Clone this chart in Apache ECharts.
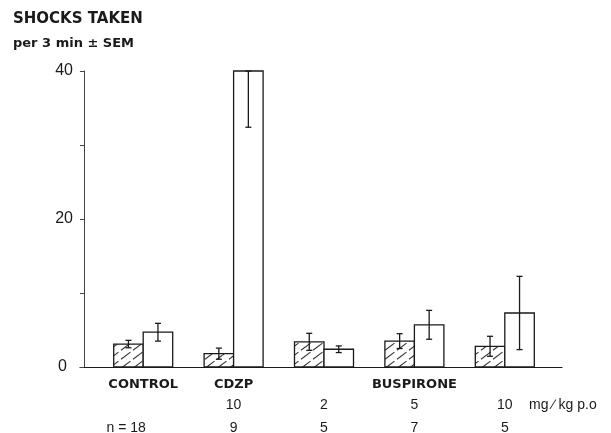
<!DOCTYPE html>
<html>
<head>
<meta charset="utf-8">
<script src="https://cdn.jsdelivr.net/npm/echarts@6/dist/echarts.min.js"></script>
<style>html,body{margin:0;padding:0;background:#fff;}#c{width:611px;height:433px;}</style>
</head>
<body>
<div id="c"></div>
<script>
// ---- data ----
const categories = ['CONTROL', 'CDZP 10', 'BUSPIRONE 2', 'BUSPIRONE 5', 'BUSPIRONE 10'];
const groupLabels = ['CONTROL', 'CDZP', ' ', 'BUSPIRONE', ' '];
const doseLabels = [' ', '10', '2', '5', '10'];
const nLabels = ['n = 18', '9', '5', '7', '5'];
const hatchedMean = [3.1, 1.8, 3.4, 3.5, 2.8];
const hatchedSem = [0.5, 0.75, 1.15, 1.0, 1.35];
const openMean = [4.7, 40, 2.4, 5.7, 7.3];
const openSem = [1.2, 7.6, 0.45, 1.95, 4.95];
const yTickLabels = {0: '0', 20: '20', 40: '40'};
const Y_MAX = 40;

// ---- styles ----
const INK = '#1a1a1a';
const FONT = '"Liberation Sans", Arial, sans-serif';
const BFONT = '"DejaVu Sans", "Liberation Sans", sans-serif';
const BAR_W = 29.5;

const tile = document.createElement('canvas');
tile.width = 12; tile.height = 9;
const tctx = tile.getContext('2d');
tctx.fillStyle = '#fff'; tctx.fillRect(0, 0, 12, 9);
tctx.strokeStyle = '#333'; tctx.lineWidth = 1.1;
tctx.beginPath();
tctx.moveTo(1, 8.2); tctx.lineTo(10.5, 1.1);
tctx.stroke();

function makeRender(side, fill) {
  return function (params, api) {
    const idx = api.value(0), mean = api.value(1), sem = api.value(2);
    const base = api.coord([idx, 0]);
    const topP = api.coord([idx, mean]);
    const x0 = side < 0 ? base[0] - BAR_W : base[0];
    const cx = x0 + BAR_W / 2;
    const yLo = api.coord([idx, Math.max(0, mean - sem)])[1];
    const yHi = api.coord([idx, Math.min(Y_MAX, mean + sem)])[1];
    const ls = {stroke: INK, lineWidth: 1.3};
    return {
      type: 'group',
      children: [
        {type: 'rect', shape: {x: x0, y: topP[1], width: BAR_W, height: base[1] - topP[1]},
         style: {fill: fill, stroke: INK, lineWidth: 1.3}},
        {type: 'line', shape: {x1: cx, y1: yLo, x2: cx, y2: yHi}, style: ls},
        {type: 'line', shape: {x1: cx - 3, y1: yLo, x2: cx + 3, y2: yLo}, style: ls},
        {type: 'line', shape: {x1: cx - 3, y1: yHi, x2: cx + 3, y2: yHi}, style: ls}
      ]
    };
  };
}

const chart = echarts.init(document.getElementById('c'), null, {renderer: 'canvas'});
chart.setOption({
  backgroundColor: '#fff',
  animation: false,
  grid: [
    {left: 98, width: 452, top: 71, height: 296, containLabel: false, outerBoundsMode: 'none'},
    {left: 80, width: 482, top: 71, height: 296, containLabel: false, outerBoundsMode: 'none'}
  ],
  xAxis: [
    {type: 'category', gridIndex: 0, data: categories,
     axisLine: {show: false}, axisTick: {show: false},
     axisLabel: {
       margin: 8, interval: 0,
       formatter: function (v, i) {
         return '{g|' + groupLabels[i] + '}\n{d|' + doseLabels[i] + '}\n' +
           (i === 0 ? '{n0|' + nLabels[i] + '}' : '{n|' + nLabels[i] + '}');
       },
       rich: {
         g: {fontFamily: BFONT, fontSize: 13, color: INK, lineHeight: 20, fontWeight: 'bold'},
         d: {fontFamily: FONT, fontSize: 14, color: INK, lineHeight: 20},
         n: {fontFamily: FONT, fontSize: 14, color: INK, lineHeight: 26},
         n0: {fontFamily: FONT, fontSize: 14, color: INK, lineHeight: 26, padding: [0, 34, 0, 0]}
       }
     }},
    {type: 'value', gridIndex: 1, min: 0, max: 1,
     axisLine: {show: true, lineStyle: {color: INK, width: 1.2}},
     axisTick: {show: false}, axisLabel: {show: false}, splitLine: {show: false}}
  ],
  yAxis: [
    {type: 'value', gridIndex: 0, min: 0, max: Y_MAX, interval: 10, offset: 14,
     axisLine: {show: true, lineStyle: {color: '#444', width: 1}},
     axisTick: {show: true, length: 4, lineStyle: {color: '#444'}},
     splitLine: {show: false},
     axisLabel: {
       margin: 11,
       formatter: function (v) {
         if (v === 0) return '{z|0}';
         return yTickLabels[v] !== undefined ? yTickLabels[v] : '';
       },
       fontFamily: FONT, fontSize: 16, color: INK,
       rich: {z: {fontFamily: FONT, fontSize: 16, color: INK, padding: [0, 6, 0, 0]}}
     }},
    {type: 'value', gridIndex: 1, min: 0, max: Y_MAX, show: false}
  ],
  series: [
    {type: 'custom', xAxisIndex: 0, yAxisIndex: 0, clip: false,
     renderItem: makeRender(-1, {image: tile, repeat: 'repeat'}),
     data: hatchedMean.map((m, i) => [i, m, hatchedSem[i]])},
    {type: 'custom', xAxisIndex: 0, yAxisIndex: 0, clip: false,
     renderItem: makeRender(1, '#fff'),
     data: openMean.map((m, i) => [i, m, openSem[i]])}
  ],
  graphic: [
    {type: 'text', x: 13, y: 19, style: {text: 'SHOCKS TAKEN', font: 'bold 15px ' + BFONT, fill: INK, verticalAlign: 'middle'}},
    {type: 'text', x: 13, y: 44, style: {text: 'per 3 min \u00B1 SEM', font: 'bold 13px ' + BFONT, fill: INK, verticalAlign: 'middle'}},
    {type: 'text', x: 529, y: 405, style: {text: 'mg \u2215 kg p.o', font: '14px ' + FONT, fill: INK, verticalAlign: 'middle'}}
  ]
});
</script>
</body>
</html>
